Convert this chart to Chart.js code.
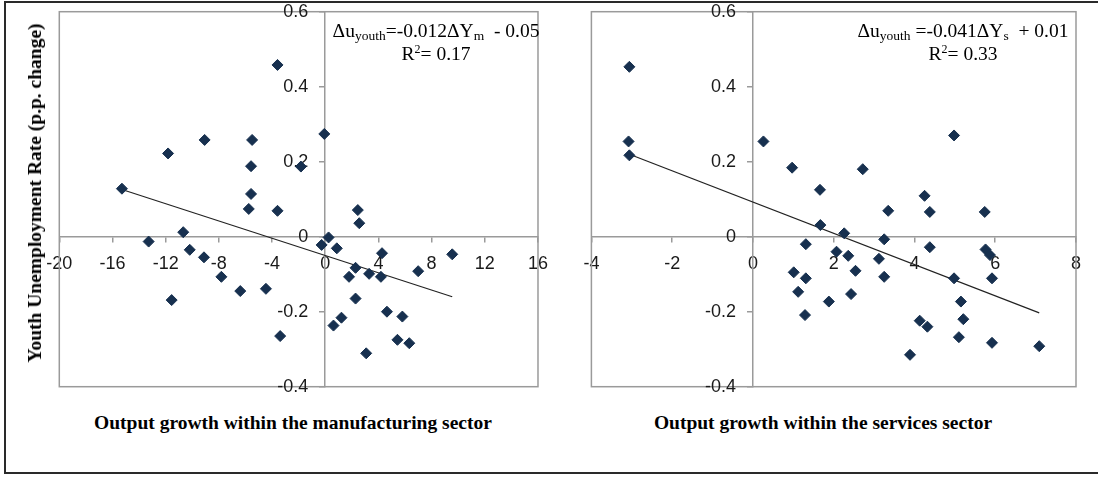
<!DOCTYPE html>
<html>
<head>
<meta charset="utf-8">
<script src="https://cdn.jsdelivr.net/npm/chart.js@4.4.1/dist/chart.umd.min.js"></script>
<style>
  html, body { margin: 0; padding: 0; background: #fff; width: 1098px; height: 477px; overflow: hidden; }
  #frame { position: absolute; left: 4px; top: 1px; width: 1110px; height: 473px; border: 2px solid #2a2a2a; box-sizing: border-box; }
  canvas { position: absolute; top: 0; }
  #chartMfg { left: 0; }
  #chartSvc { left: 560px; }
  .txt { position: absolute; font-family: "Liberation Serif", "Times New Roman", serif; color: #000; white-space: nowrap; }
  .eq { font-size: 19.5px; line-height: 23px; text-align: center; transform: translateX(-50%); }
  .eq sub { font-size: 13.5px; vertical-align: -3px; line-height: 0; }
  .eq sup { font-size: 12px; vertical-align: 7px; line-height: 0; }
  .xt { font-weight: bold; font-size: 19.5px; line-height: 22px; transform: translate(-50%, -50%); }
  .yt { font-weight: bold; font-size: 19.5px; line-height: 22px; transform: translate(-50%, -50%) rotate(-90deg); }
</style>
</head>
<body>
<div id="frame"></div>
<canvas id="chartMfg" width="560" height="400" style="width:560px;height:400px"></canvas>
<canvas id="chartSvc" width="538" height="400" style="width:538px;height:400px"></canvas>

<div class="txt eq" style="left:436px; top:19px;">&Delta;u<sub>youth</sub>=-0.012&Delta;Y<sub>m</sub>&nbsp; - 0.05<br>R<sup>2</sup>= 0.17</div>
<div class="txt eq" style="left:963px; top:19px;">&Delta;u<sub>youth</sub> =-0.041&Delta;Y<sub>s</sub>&nbsp; + 0.01<br>R<sup>2</sup>= 0.33</div>
<div class="txt xt" style="left:293px; top:423px;">Output growth within the manufacturing sector</div>
<div class="txt xt" style="left:823px; top:423px;">Output growth within the services sector</div>
<div class="txt yt" style="left:35px; top:193px;">Youth Unemployment Rate (p.p. change)</div>

<script>
// Manufacturing: output growth (x) vs change in youth unemployment rate (y)
const mfgX = [-3.59, -11.82, -9.07, -5.50, -5.58, -5.58, -5.75, -3.59, -1.83, -0.07,
              -15.29, 2.45, 2.56, -10.68, -13.28, 0.25, -0.27, 0.87, -10.19, -9.12,
              -7.81, -6.39, -4.46, -11.55, -3.39, 4.27, 2.28, 3.30, 1.79, 4.19,
              6.99, 9.55, 2.28, 4.64, 5.80, 1.22, 0.62, 5.43, 6.32, 3.08];
const mfgY = [0.458, 0.222, 0.258, 0.258, 0.188, 0.114, 0.074, 0.069, 0.187, 0.274,
              0.128, 0.071, 0.036, 0.012, -0.013, -0.002, -0.022, -0.031, -0.035, -0.055,
              -0.107, -0.145, -0.139, -0.169, -0.265, -0.044, -0.083, -0.099, -0.107, -0.107,
              -0.092, -0.047, -0.165, -0.200, -0.213, -0.216, -0.237, -0.275, -0.284, -0.311];

// Services: output growth (x) vs change in youth unemployment rate (y)
const svcX = [-3.06, -3.08, -3.06, 0.26, 0.97, 2.72, 4.98, 1.66, 4.25, 3.35,
              4.38, 5.74, 1.67, 2.26, 3.25, 1.31, 4.38, 5.76, 5.87, 2.07,
              2.36, 3.12, 1.01, 2.54, 1.31, 3.25, 4.98, 5.92, 1.12, 2.43,
              1.88, 5.15, 1.29, 5.21, 4.13, 4.32, 5.10, 5.92, 7.09, 3.89];
const svcY = [0.453, 0.254, 0.217, 0.254, 0.184, 0.180, 0.270, 0.125, 0.109, 0.069,
              0.066, 0.066, 0.031, 0.009, -0.007, -0.020, -0.028, -0.034, -0.049, -0.040,
              -0.051, -0.059, -0.095, -0.091, -0.111, -0.107, -0.111, -0.111, -0.147, -0.153,
              -0.173, -0.173, -0.209, -0.220, -0.224, -0.240, -0.268, -0.283, -0.292, -0.315];

// Linear trend lines (end points)
const mfgTrendX = [-15.29, 9.55];
const mfgTrendY = [0.126, -0.160];
const svcTrendX = [-3.06, 7.09];
const svcTrendY = [0.220, -0.203];

// Axis ranges and tick steps
const mfgXTicks = { min: -20, max: 16, step: 4 };
const svcXTicks = { min: -4, max: 8, step: 2 };
const yTicks = { min: -0.4, max: 0.6, step: 0.2 };

const pairs = (xs, ys) => xs.map((x, i) => ({ x, y: ys[i] }));

const AXIS_GREY = '#9a9a9a';
const MARKER = '#17304f';
const TICK_FONT = "18px 'Liberation Sans', Arial, sans-serif";
const fmtY = v => String(+v.toFixed(1));

// Grey frame around the plotting area
const plotFrame = {
  id: 'plotFrame',
  beforeDatasetsDraw(chart) {
    const { ctx, chartArea: a } = chart;
    ctx.save();
    ctx.strokeStyle = AXIS_GREY;
    ctx.lineWidth = 1.5;
    ctx.strokeRect(a.left, a.top, a.right - a.left, a.bottom - a.top);
    ctx.restore();
  }
};

// Y tick labels set off to the left of the crossing vertical axis
const yTickLabels = {
  id: 'yTickLabels',
  beforeDatasetsDraw(chart) {
    const { ctx, scales: { x, y } } = chart;
    const axisX = x.getPixelForValue(0);
    ctx.save();
    ctx.font = TICK_FONT;
    ctx.fillStyle = '#1a1a1a';
    ctx.textAlign = 'right';
    ctx.textBaseline = 'middle';
    y.ticks.forEach(t => ctx.fillText(fmtY(t.value), axisX - 17, y.getPixelForValue(t.value)));
    ctx.restore();
  }
};

function makeChart(id, xs, ys, tx, ty, xr, padding) {
  return new Chart(document.getElementById(id), {
    type: 'scatter',
    data: {
      datasets: [
        {
          type: 'line',
          data: pairs(tx, ty),
          borderColor: '#222',
          borderWidth: 1.2,
          pointRadius: 0,
          fill: false,
          order: 2
        },
        {
          data: pairs(xs, ys),
          pointStyle: 'rectRot',
          pointRadius: 5.5,
          pointBackgroundColor: MARKER,
          pointBorderColor: MARKER,
          pointBorderWidth: 1,
          order: 1
        }
      ]
    },
    options: {
      responsive: false,
      animation: false,
      events: [],
      layout: { padding },
      plugins: { legend: { display: false }, tooltip: { enabled: false } },
      scales: {
        x: {
          type: 'linear',
          position: { y: 0 },
          min: xr.min, max: xr.max,
          ticks: {
            stepSize: xr.step, autoSkip: false, maxRotation: 0, padding: 12,
            color: '#1a1a1a', font: { family: "'Liberation Sans', Arial, sans-serif", size: 18 },
            callback: v => String(v)
          },
          grid: { display: true, drawOnChartArea: false, drawTicks: true, tickLength: 5, tickColor: AXIS_GREY, lineWidth: 1.5 },
          border: { display: true, color: AXIS_GREY, width: 1.5 }
        },
        y: {
          type: 'linear',
          position: { x: 0 },
          min: yTicks.min, max: yTicks.max,
          ticks: { stepSize: yTicks.step, autoSkip: false, display: false },
          grid: { display: true, drawOnChartArea: false, drawTicks: true, tickLength: 5, tickColor: AXIS_GREY, lineWidth: 1.5 },
          border: { display: true, color: AXIS_GREY, width: 1.5 }
        }
      }
    },
    plugins: [plotFrame, yTickLabels]
  });
}

makeChart('chartMfg', mfgX, mfgY, mfgTrendX, mfgTrendY, mfgXTicks,
  { left: 59.3, top: 11.7, right: 16.5, bottom: 13.3 });
makeChart('chartSvc', svcX, svcY, svcTrendX, svcTrendY, svcXTicks,
  { left: 31.4, top: 11.7, right: 22, bottom: 13.3 });
</script>
</body>
</html>
